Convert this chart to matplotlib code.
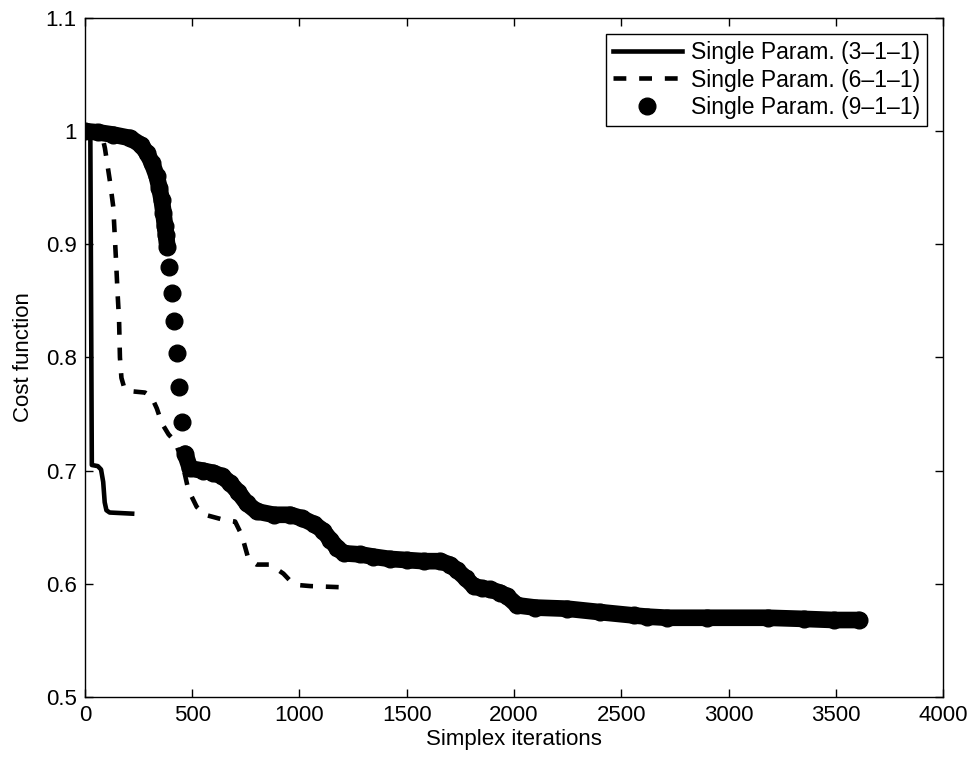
import numpy as np
import matplotlib
matplotlib.use('Agg')
import matplotlib.pyplot as plt

plt.rcParams['font.family'] = ['Liberation Sans', 'DejaVu Sans']
plt.rcParams['font.size'] = 16

# Single Param. (3-1-1): solid line
it3 = [0, 25, 32, 60, 75, 85, 92, 100, 115, 220]
c3 = [1.000, 0.998, 0.705, 0.704, 0.701, 0.690, 0.672, 0.665, 0.663, 0.662]

# Single Param. (6-1-1): dashed line
it6 = [0, 50, 80, 93, 105, 117, 132, 145, 152, 159, 163, 170, 185, 225, 280,
       311, 335, 358, 390, 420, 450, 482, 521, 560, 638, 700, 731, 762, 800,
       863, 925, 960, 988, 1050, 1190]
c6 = [1.000, 0.999, 0.996, 0.985, 0.970, 0.955, 0.933, 0.885, 0.857, 0.833,
      0.800, 0.782, 0.772, 0.770, 0.769, 0.765, 0.755, 0.742, 0.732, 0.726,
      0.710, 0.683, 0.668, 0.661, 0.657, 0.655, 0.643, 0.622, 0.617, 0.617,
      0.609, 0.602, 0.599, 0.598, 0.597]

# Single Param. (9-1-1): filled circles
it9 = [0, 60, 131, 210, 260, 288, 312, 335, 347, 358, 366, 373, 378, 384, 393,
       404, 417, 431, 440, 451, 467, 490, 550, 599, 640, 677, 715, 755, 801,
       880, 957, 1010, 1066, 1110, 1143, 1175, 1206, 1283, 1345, 1420, 1501,
       1580, 1657, 1700, 1735, 1775, 1812, 1850, 1890, 1937, 1968, 2015, 2100,
       2248, 2400, 2560, 2620, 2715, 2900, 3182, 3350, 3493, 3610]
c9 = [1.000, 0.999, 0.997, 0.994, 0.988, 0.981, 0.972, 0.960, 0.950, 0.939,
      0.928, 0.916, 0.908, 0.898, 0.880, 0.857, 0.832, 0.804, 0.774, 0.743,
      0.715, 0.702, 0.700, 0.698, 0.695, 0.689, 0.681, 0.671, 0.664, 0.661,
      0.661, 0.658, 0.653, 0.647, 0.639, 0.632, 0.627, 0.626, 0.624, 0.622,
      0.621, 0.620, 0.620, 0.617, 0.612, 0.605, 0.598, 0.596, 0.595, 0.592,
      0.589, 0.581, 0.579, 0.578, 0.575, 0.572, 0.571, 0.570, 0.570, 0.570,
      0.569, 0.568, 0.568]

labels = ['Single Param. (3\u20131\u20131)', 'Single Param. (6\u20131\u20131)',
          'Single Param. (9\u20131\u20131)']

xticks = [0, 500, 1000, 1500, 2000, 2500, 3000, 3500, 4000]
yticks = [0.5, 0.6, 0.7, 0.8, 0.9, 1.0, 1.1]

fig = plt.figure(figsize=(9.71, 7.57), dpi=100)
ax = fig.add_axes([0.0875, 0.0793, 0.8837, 0.8969])
ax.set_xlim(0, 4000)
ax.set_ylim(0.5, 1.1)

ax.plot(it3, c3, '-', color='black', lw=3.3, label=labels[0])
ax.plot(it6, c6, color='black', lw=3.3, linestyle=(0, (2.8, 2.8)),
        dash_capstyle='butt', label=labels[1])

# circles: consecutive points that overlap are joined into one thick band
ms = 12
pts = ax.transData.transform(np.column_stack([it9, c9]))
gap = np.abs(np.diff(pts[:, 1])) < ms * 100 / 72
start = 0
for i in range(len(it9) - 1):
    if not gap[i]:
        if i > start:
            ax.plot(it9[start:i + 1], c9[start:i + 1], '-', color='black', lw=ms,
                    solid_capstyle='round', solid_joinstyle='round')
        start = i + 1
if len(it9) - 1 > start:
    ax.plot(it9[start:], c9[start:], '-', color='black', lw=ms,
            solid_capstyle='round', solid_joinstyle='round')
ax.plot(it9, c9, 'o', color='black', ms=ms, label=labels[2])

ax.set_xticks(xticks)
ax.set_yticks(yticks)
ax.set_yticklabels(['%g' % v for v in yticks])
ax.tick_params(direction='in', length=6, width=1, top=True, right=True, pad=6)
for s in ax.spines.values():
    s.set_linewidth(1)

ax.set_xlabel('Simplex iterations', labelpad=2)
ax.set_ylabel('Cost function', labelpad=8)

leg = ax.legend(loc='upper right', fancybox=False, framealpha=1, edgecolor='black',
                fontsize=16.5, handlelength=3.0, handletextpad=0.4, borderpad=0.3,
                labelspacing=0.2, borderaxespad=0.7)
leg.get_frame().set_linewidth(1)

fig.savefig('out.png', dpi=100)
